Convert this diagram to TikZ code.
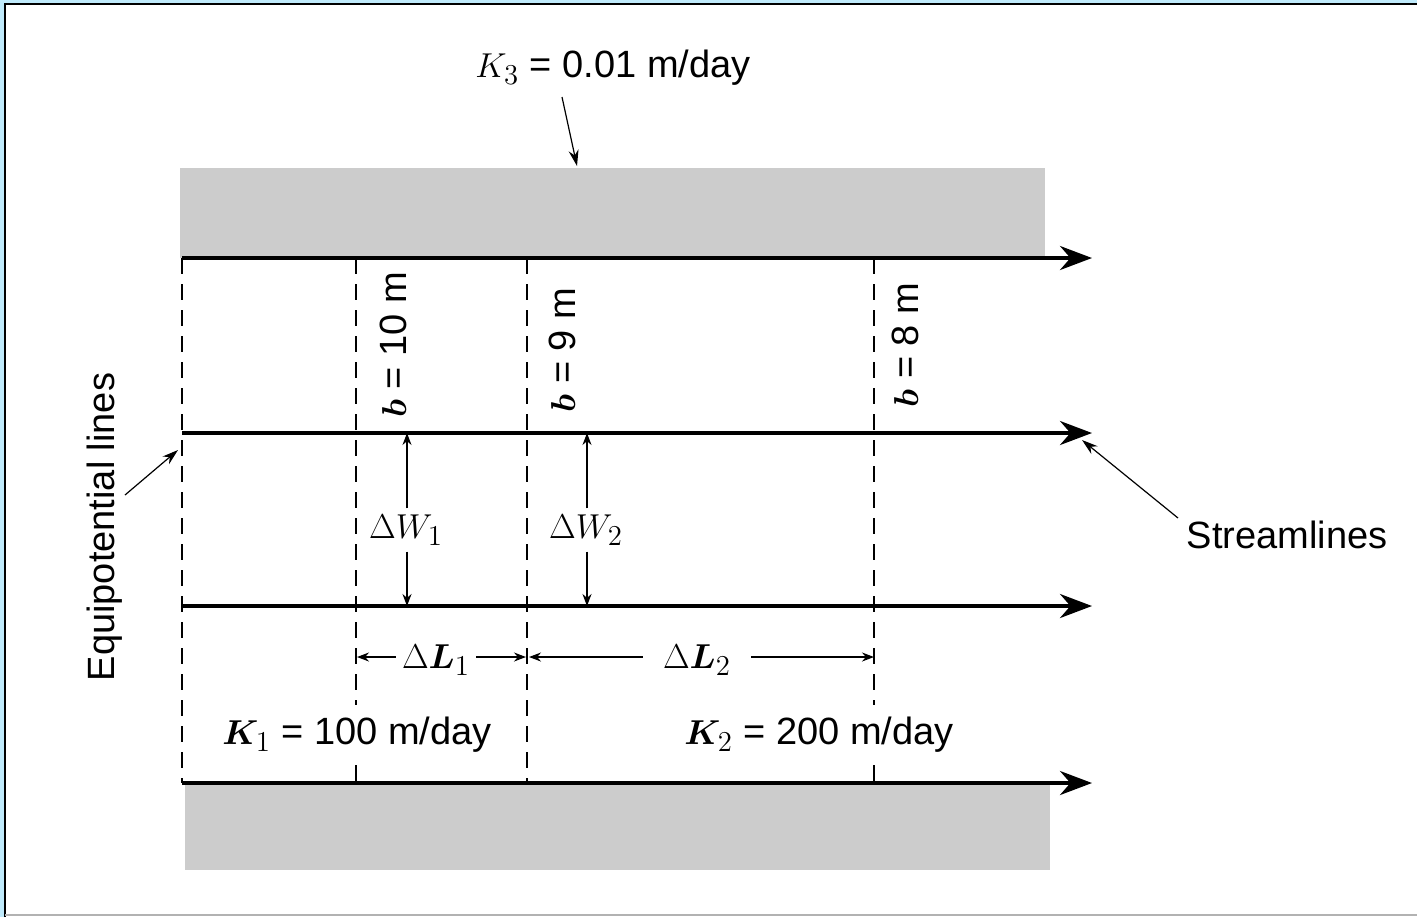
\documentclass[tikz,border=0pt]{standalone}
\usepackage{fontspec}
\setmainfont{Liberation Sans}
\usepackage{bm}
\usetikzlibrary{arrows.meta}
\begin{document}
\begin{tikzpicture}[x=0.5pt,y=-0.5pt,
  lbl/.style={font=\fontsize{19}{22}\selectfont, inner sep=1pt},
  dlbl/.style={font=\fontsize{19}{22}\selectfont, inner sep=3pt},
  klbl/.style={font=\fontsize{19}{22}\selectfont, inner xsep=3pt, inner ysep=6pt},
  stream/.style={line width=1.8pt, -{Stealth[length=16pt,width=12pt]}},
  equip/.style={line width=1.1pt, dash pattern=on 8pt off 5pt},
  dimone/.style={line width=0.6pt, -{Stealth[length=6pt,width=4.5pt]}},
  ptr/.style={line width=0.6pt, -{Stealth[length=8pt,width=5pt]}},
  band/.style={fill=black!20}
]
\useasboundingbox (0,0) rectangle (1417,917);
\fill[white] (0,0) rectangle (1417,917);
\fill[cyan!25] (0,0) rectangle (1417,3);
\fill[cyan!25] (0,0) rectangle (4,917);
\draw[line width=1.2pt] (5,917) -- (5,4) -- (1417,4);
\draw[black!30, line width=1pt] (5,915) -- (1417,915);

% low-permeability bands
\fill[band] (180,168) rectangle (1045,258);
\fill[band] (185,783) rectangle (1050,870);

% conductivities
\node[klbl] (k1) at (357,735) {$\bm{K}_1$ = 100 m/day};
\node[klbl] (k2) at (819,735) {$\bm{K}_2$ = 200 m/day};

% equipotential lines
\foreach \n/\x in {e0/182,e1/356,e2/527,e3/874}{
  \coordinate (\n t) at (\x,258);
  \coordinate (\n b) at (\x,783);
}
\draw[equip] (e0t) -- (e0b);
\draw[equip] (e2t) -- (e2b);
\draw[equip] (e1t) -- (e1t |- k1.north);
\draw[equip] (e1t |- k1.south) -- (e1b);
\draw[equip] (e3t) -- (e3t |- k2.north);
\draw[equip] (e3t |- k2.south) -- (e3b);

% streamlines
\foreach \n/\y in {s1/258,s2/433,s3/606,s4/783}{
  \coordinate (\n a) at (182,\y);
  \coordinate (\n b) at (1092,\y);
  \draw[stream] (\n a) -- (\n b);
}

% head labels
\node[lbl, rotate=90] (b10) at (393,345) {$\bm{b}$ = 10 m};
\node[lbl, rotate=90] (b9) at (562,350) {$\bm{b}$ = 9 m};
\node[lbl, rotate=90] (b8) at (905,345) {$\bm{b}$ = 8 m};

% Delta W
\coordinate (w1t) at (407,433); \coordinate (w1b) at (407,606);
\coordinate (w2t) at (587,433); \coordinate (w2b) at (587,606);
\node[dlbl] (dw1) at (406,530) {$\Delta W_1$};
\node[dlbl] (dw2) at (586,530) {$\Delta W_2$};
\draw[dimone] (w1t |- dw1.north) -- (w1t);
\draw[dimone] (w1t |- dw1.south) -- (w1b);
\draw[dimone] (w2t |- dw2.north) -- (w2t);
\draw[dimone] (w2t |- dw2.south) -- (w2b);

% Delta L
\coordinate (l1a) at (357,657); \coordinate (l1b) at (526,657);
\coordinate (l2a) at (529,657); \coordinate (l2b) at (874,657);
\node[dlbl] (dl1) at (436,660) {$\Delta\bm{L}_1$};
\node[dlbl, inner xsep=10pt] (dl2) at (697,660) {$\Delta\bm{L}_2$};
\draw[dimone] (dl1.west |- l1a) -- (l1a);
\draw[dimone] (dl1.east |- l1a) -- (l1b);
\draw[dimone] (dl2.west |- l2a) -- (l2a);
\draw[dimone] (dl2.east |- l2a) -- (l2b);

% top label
\node[lbl] (k3) at (613,68) {$K_3$ = 0.01 m/day};
\coordinate (k3s) at (562,97); \coordinate (k3e) at (577,166);
\draw[ptr] (k3s) -- (k3e);

% side labels
\node[lbl, rotate=90] (eq) at (105,527) {Equipotential lines};
\coordinate (eqs) at (125,495); \coordinate (eqe) at (178,450);
\draw[ptr] (eqs) -- (eqe);

\node[lbl] (st) at (1287,535) {Streamlines};
\coordinate (sts) at (1178,518); \coordinate (ste) at (1082,440);
\draw[ptr] (sts) -- (ste);
\end{tikzpicture}
\end{document}
